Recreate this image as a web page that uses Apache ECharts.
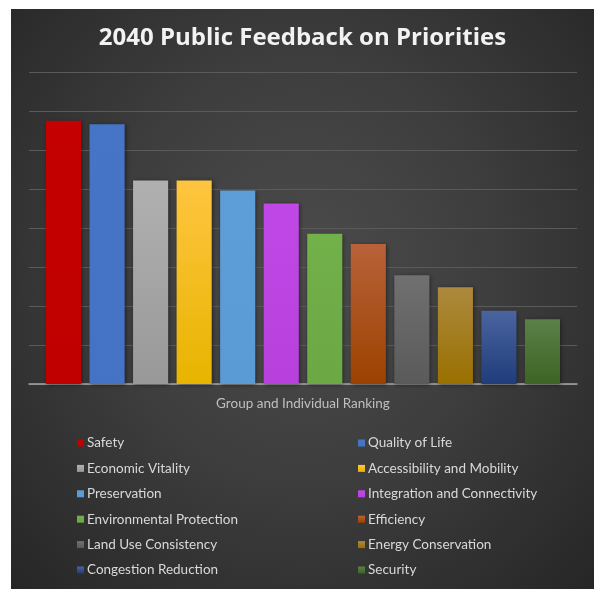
<!DOCTYPE html>
<html><head><meta charset="utf-8">
<script src="https://cdn.jsdelivr.net/npm/echarts@6/dist/echarts.min.js"></script>
<style>
html,body{margin:0;padding:0;background:#fff;width:597px;height:589px;overflow:hidden;}
#c{position:absolute;left:11px;top:9px;width:583px;height:580px;
background:radial-gradient(ellipse at 50% 45%, #4c4c4c 0%, #3e3e3e 45%, #262626 100%);}
</style></head><body>
<div id="c"></div>
<script>
var titleText = '2040 Public Feedback on Priorities';
var axisCategory = ['Group and Individual Ranking'];
var seriesNames = ['Safety','Quality of Life','Economic Vitality','Accessibility and Mobility','Preservation','Integration and Connectivity','Environmental Protection','Efficiency','Land Use Consistency','Energy Conservation','Congestion Reduction','Security'];
var seriesValues = [6.75, 6.66, 5.22, 5.22, 4.96, 4.63, 3.85, 3.59, 2.79, 2.48, 1.88, 1.66];
var colorTop = ['#c40000','#4675c8','#b0b0b0','#ffc540','#5d9dd8','#c048e6','#72b04a','#b8623a','#707070','#ac8a3e','#4a64a0','#5c8048'];
var colorBottom = ['#c00000','#4472c4','#999999','#e8b400','#5b9bd5','#b840dc','#6ca844','#9c4200','#5a5a5a','#9a7000','#1f3d7a','#3d6424'];

var chart = echarts.init(document.getElementById('c'), null, {renderer:'canvas'});
var series = seriesNames.map(function(n,i){
  return {
    name: n, type: 'bar',
    data: [seriesValues[i]],
    barGap: '24%', barCategoryGap: '6.2%',
    itemStyle: {
      color: new echarts.graphic.LinearGradient(0,0,0,1,[{offset:0,color:colorTop[i]},{offset:1,color:colorBottom[i]}]),
      shadowBlur: 4, shadowColor: 'rgba(0,0,0,0.45)', shadowOffsetX: 1, shadowOffsetY: 1
    }
  };
});
var left = seriesNames.filter(function(_,i){return i%2===0;});
var right = seriesNames.filter(function(_,i){return i%2===1;});
var legendCommon = {
  orient:'vertical', top: 422, itemWidth: 7, itemHeight: 7, itemGap: 11.4, icon:'rect',
  textStyle:{color:'#d9d9d9', fontSize:13.5, fontFamily:'Lato', lineHeight:14, padding:[0,0,0,-2]},
  selectedMode:false
};
chart.setOption({
  animation:false,
  color: colorBottom,
  title:{text:titleText, left:'center', top:12,
    textStyle:{color:'#f2f2f2', fontSize:24, fontWeight:'bold', fontFamily:'Open Sans'}},
  grid:{left:18, right:17, top:63, height:312, containLabel:false},
  xAxis:{type:'category', data:axisCategory,
    axisLine:{lineStyle:{color:'#a6a6a6', width:1.5}},
    axisTick:{show:false},
    axisLabel:{color:'#bfbfbf', fontSize:13.5, fontFamily:'Lato', margin:13}},
  yAxis:{type:'value', min:0, max:8, interval:1,
    axisLabel:{show:false}, axisLine:{show:false}, axisTick:{show:false},
    splitLine:{lineStyle:{color:'#5a5a5a', width:1}}},
  legend:[
    Object.assign({}, legendCommon, {left:61, data:left}),
    Object.assign({}, legendCommon, {left:342, data:right})
  ],
  series: series
});
</script></body></html>
